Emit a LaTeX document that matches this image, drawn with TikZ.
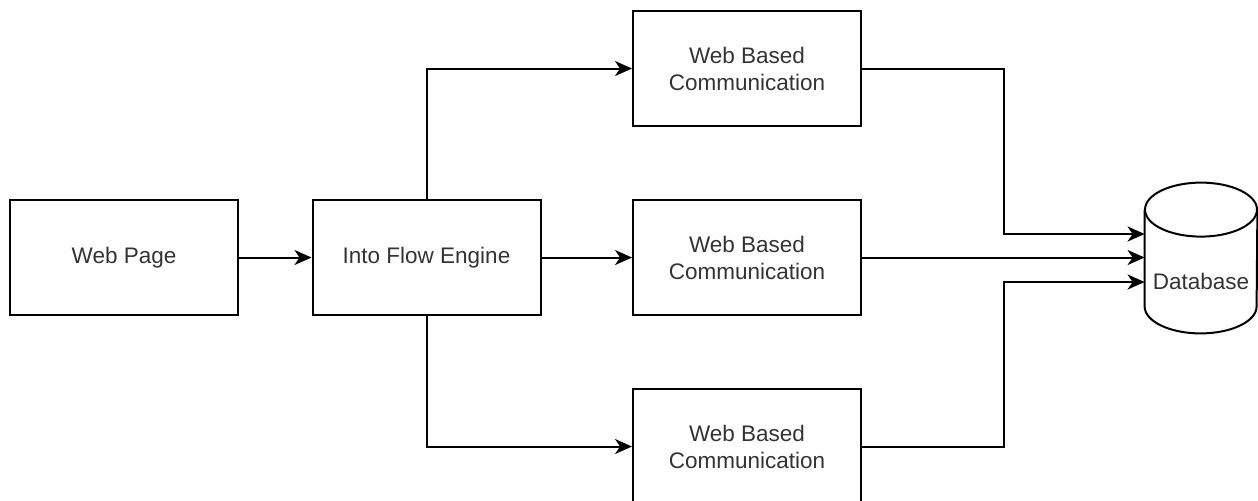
\documentclass[tikz,border=0pt]{standalone}
\usepackage{fontspec}
\setmainfont{Liberation Sans}
\usetikzlibrary{arrows.meta}
\definecolor{txtgray}{HTML}{333333}
\tikzset{
  box/.style={draw, line width=1pt, minimum width=114pt, minimum height=57.5pt, inner sep=0pt,
    align=center, text=txtgray, font=\fontsize{11.25}{13.5}\selectfont},
  dbbox/.style={minimum width=56pt, minimum height=75pt, inner sep=0pt},
  txt/.style={text=txtgray, font=\fontsize{11.25}{13.5}\selectfont},
  link/.style={->, line width=1pt},
}
\begin{document}
\begin{tikzpicture}[>={Stealth[length=8.5pt,width=7.5pt,inset=2.5pt]}, line join=miter, x=.5pt, y=.5pt]
        \useasboundingbox (0,0) rectangle (1258,-500);
        % boxes
        \node[box] (page) at (124,-257.5) {Web Page};
        \node[box] (engine) at (426.5,-257.5) {Into Flow Engine};
        \node[box] (wbc1) at (747,-68.5) {Web Based\\Communication};
        \node[box] (wbc2) at (747,-257.5) {Web Based\\Communication};
        \node[box] (wbc3) at (747,-446.5) {Web Based\\Communication};
        % database
        \node[dbbox] (db) at (1201,-258) {};
        \draw[line width=1pt] ([yshift=-13.5pt]db.north west) -- ([yshift=13.5pt]db.south west)
            arc[start angle=180, end angle=360, x radius=28pt, y radius=13.5pt]
            -- ([yshift=-13.5pt]db.north east);
        \draw[line width=1pt] ([yshift=-13.5pt]db.north) ellipse [x radius=28pt, y radius=13.5pt];
        \node[txt] (dblabel) at ([yshift=-11.5pt]db.center) {Database};
        % links
        \draw[link] (page) -- (engine);
        \draw[link] (engine.north) |- (wbc1.west);
        \draw[link] (engine) -- (wbc2);
        \draw[link] (engine.south) |- (wbc3.west);
        \draw[link] (wbc1.east) -- ++(142,0) |- ([yshift=12pt]db.west);
        \draw[link] (wbc2.east) -- (db.west |- wbc2.east);
        \draw[link] (wbc3.east) -- ++(142,0) |- ([yshift=-12pt]db.west);
    \end{tikzpicture}
\end{document}
